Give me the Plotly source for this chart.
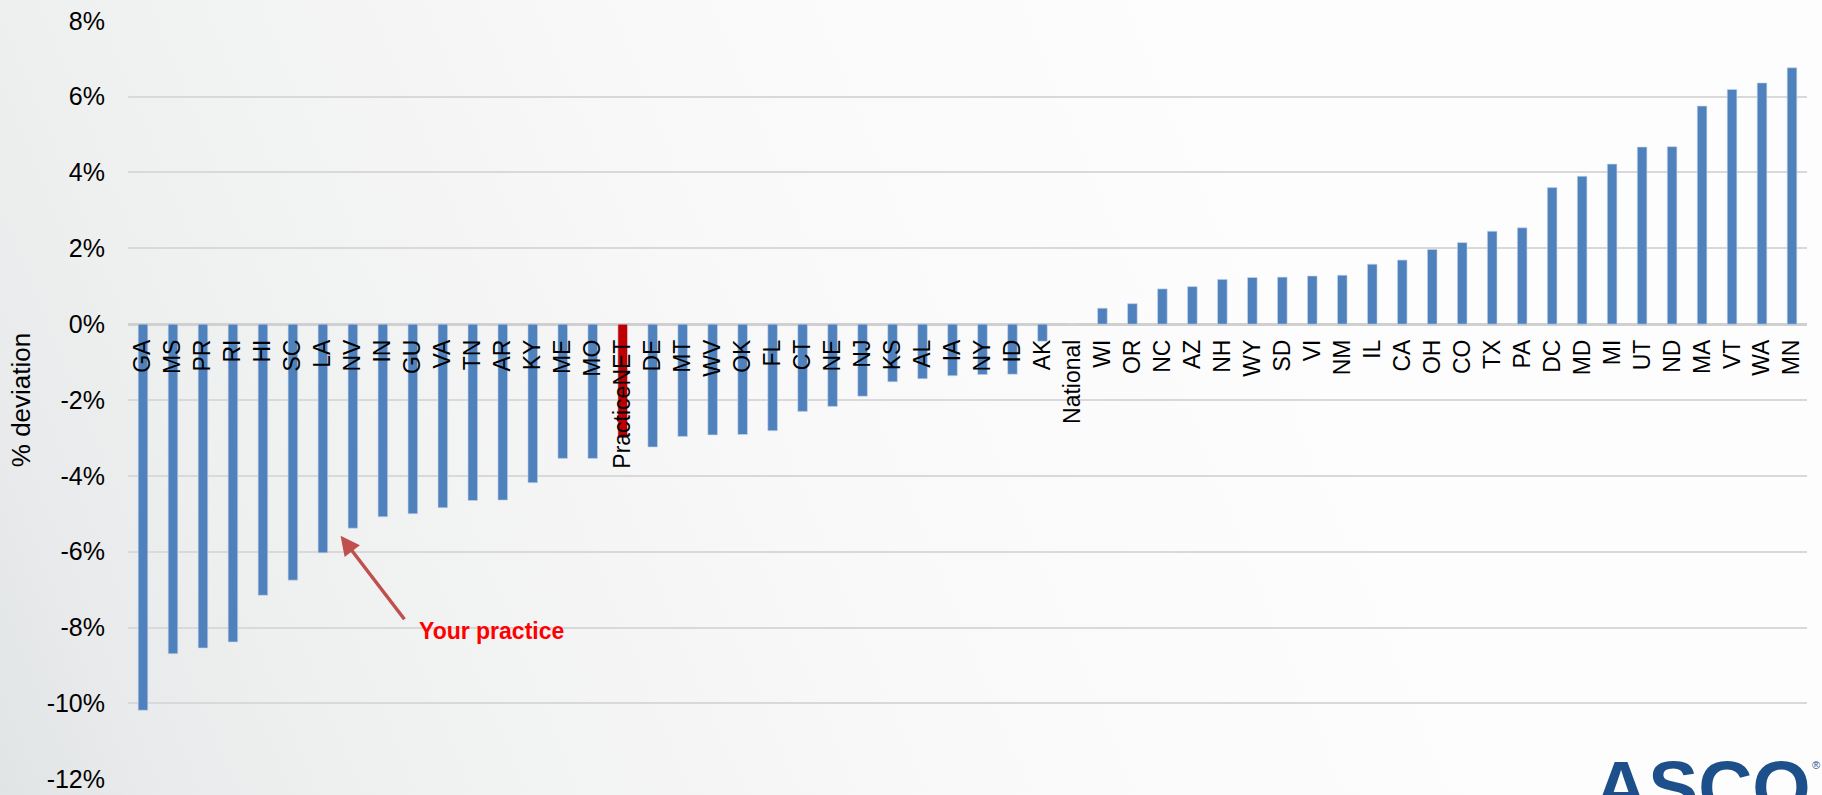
import base64
import plotly.graph_objects as go

# States / territories ranked by % deviation from the national value
categories = [
    "GA", "MS", "PR", "RI", "HI", "SC", "LA", "NV", "IN", "GU", "VA", "TN", "AR", "KY",
    "ME", "MO", "PracticeNET", "DE", "MT", "WV", "OK", "FL", "CT", "NE", "NJ", "KS",
    "AL", "IA", "NY", "ID", "AK", "National", "WI", "OR", "NC", "AZ", "NH", "WY", "SD",
    "VI", "NM", "IL", "CA", "OH", "CO", "TX", "PA", "DC", "MD", "MI", "UT", "ND", "MA",
    "VT", "WA", "MN",
]
deviation = [
    -10.18, -8.69, -8.54, -8.38, -7.15, -6.75, -6.03, -5.38, -5.08, -5.00, -4.84, -4.65,
    -4.64, -4.18, -3.54, -3.54, -3.00, -3.24, -2.96, -2.92, -2.91, -2.81, -2.30, -2.17,
    -1.90, -1.52, -1.44, -1.36, -1.33, -1.32, -0.45, 0.00, 0.42, 0.54, 0.93, 0.99, 1.18,
    1.23, 1.24, 1.27, 1.29, 1.58, 1.69, 1.97, 2.15, 2.45, 2.54, 3.60, 3.90, 4.22, 4.67,
    4.68, 5.75, 6.19, 6.36, 6.76,
]
tick_values = [-12, -10, -8, -6, -4, -2, 0, 2, 4, 6, 8]
tick_labels = ["-12%", "-10%", "-8%", "-6%", "-4%", "-2%", "0%", "2%", "4%", "6%", "8%"]
highlight = "PracticeNET"

W, H = 1822, 795
M_L, M_R, M_T, M_B = 128, 15, 20, 15
plot_w = W - M_L - M_R
plot_h = H - M_T - M_B

FONT = "Liberation Sans, Arial, sans-serif"
BLUE = "#4F81BD"
RED = "#C00000"

bar_colors = [RED if c == highlight else BLUE for c in categories]

# soft slide background: grey at lower left fading to white at upper right
bg_svg = f"""<svg xmlns='http://www.w3.org/2000/svg' width='{W}' height='{H}' viewBox='0 0 {W} {H}' preserveAspectRatio='none'>
<defs><linearGradient id='g' gradientUnits='userSpaceOnUse' x1='0' y1='{H}' x2='1275' y2='278'>
<stop offset='0' stop-color='#e1e4e5'/>
<stop offset='0.1' stop-color='#e8eaeb'/>
<stop offset='0.22' stop-color='#eeefef'/>
<stop offset='0.6' stop-color='#f8f8f8'/>
<stop offset='1' stop-color='#fdfdfd'/>
</linearGradient></defs>
<rect width='{W}' height='{H}' fill='url(#g)'/></svg>"""
bg_uri = "data:image/svg+xml;base64," + base64.b64encode(bg_svg.encode()).decode()

fig = go.Figure(
    go.Bar(
        x=categories,
        y=deviation,
        width=0.32,
        marker=dict(color=bar_colors, line=dict(color="rgba(200,215,235,0.6)", width=1)),
        hovertemplate="%{x}: %{y:.2f}%<extra></extra>",
    )
)

y_min, y_max = tick_values[0], tick_values[-1]
zero_pos = (0 - y_min) / (y_max - y_min)

fig.update_layout(
    width=W,
    height=H,
    margin=dict(l=M_L, r=M_R, t=M_T, b=M_B, autoexpand=False),
    paper_bgcolor="#eeeeee",
    plot_bgcolor="rgba(0,0,0,0)",
    showlegend=False,
    font=dict(family=FONT, color="#000000"),
    images=[
        dict(
            source=bg_uri,
            xref="paper", yref="paper",
            x=-M_L / plot_w, y=1 + M_T / plot_h,
            sizex=W / plot_w, sizey=H / plot_h,
            xanchor="left", yanchor="top",
            sizing="stretch", layer="below",
        )
    ],
    xaxis=dict(
        type="category",
        range=[-0.5, len(categories) - 0.5],
        anchor="free",
        position=zero_pos,
        showgrid=False,
        showline=False,
        ticks="",
        tickangle=-90,
        ticklabelstandoff=10,
        tickfont=dict(size=23, family=FONT, color="#000000"),
        automargin=False,
    ),
    yaxis=dict(
        range=[y_min - 0.02, y_max + 0.02],
        tickvals=tick_values,
        ticktext=tick_labels,
        showgrid=True,
        gridcolor="#d9d9d9",
        gridwidth=1.5,
        zeroline=True,
        zerolinecolor="#d0d0d0",
        zerolinewidth=2.5,
        showline=False,
        ticks="",
        ticklabelstandoff=22,
        tickfont=dict(size=25, family=FONT, color="#000000"),
        title=dict(text="% deviation", font=dict(size=26, family=FONT, color="#000000"), standoff=8),
        automargin=False,
    ),
    annotations=[
        # arrow pointing at the practice's bar
        dict(
            x=6.59, y=-5.58, xref="x", yref="y",
            ax=65, ay=85, axref="pixel", ayref="pixel",
            text="", showarrow=True,
            arrowhead=2, arrowsize=1.1, arrowwidth=3.5, arrowcolor="#C0504D",
        ),
        dict(
            x=9.14, y=-8.1, xref="x", yref="y",
            text="<b>Your practice</b>", showarrow=False,
            xanchor="left", yanchor="middle",
            font=dict(size=23, family=FONT, color="#FF0000"),
        ),
        # ASCO wordmark, bottom right
        dict(
            x=(1813 - M_L) / plot_w, y=(H - M_B - 743) / plot_h,
            xref="paper", yref="paper",
            text="<b>ASCO</b>", showarrow=False,
            xanchor="right", yanchor="top",
            font=dict(size=75, family=FONT, color="#1d4f8a"),
        ),
        dict(
            x=(1822 - M_L) / plot_w, y=(H - M_B - 757) / plot_h,
            xref="paper", yref="paper",
            text="®", showarrow=False,
            xanchor="right", yanchor="top",
            font=dict(size=11, family=FONT, color="#1d4f8a"),
        ),
    ],
)

fig.write_html("out.html")
